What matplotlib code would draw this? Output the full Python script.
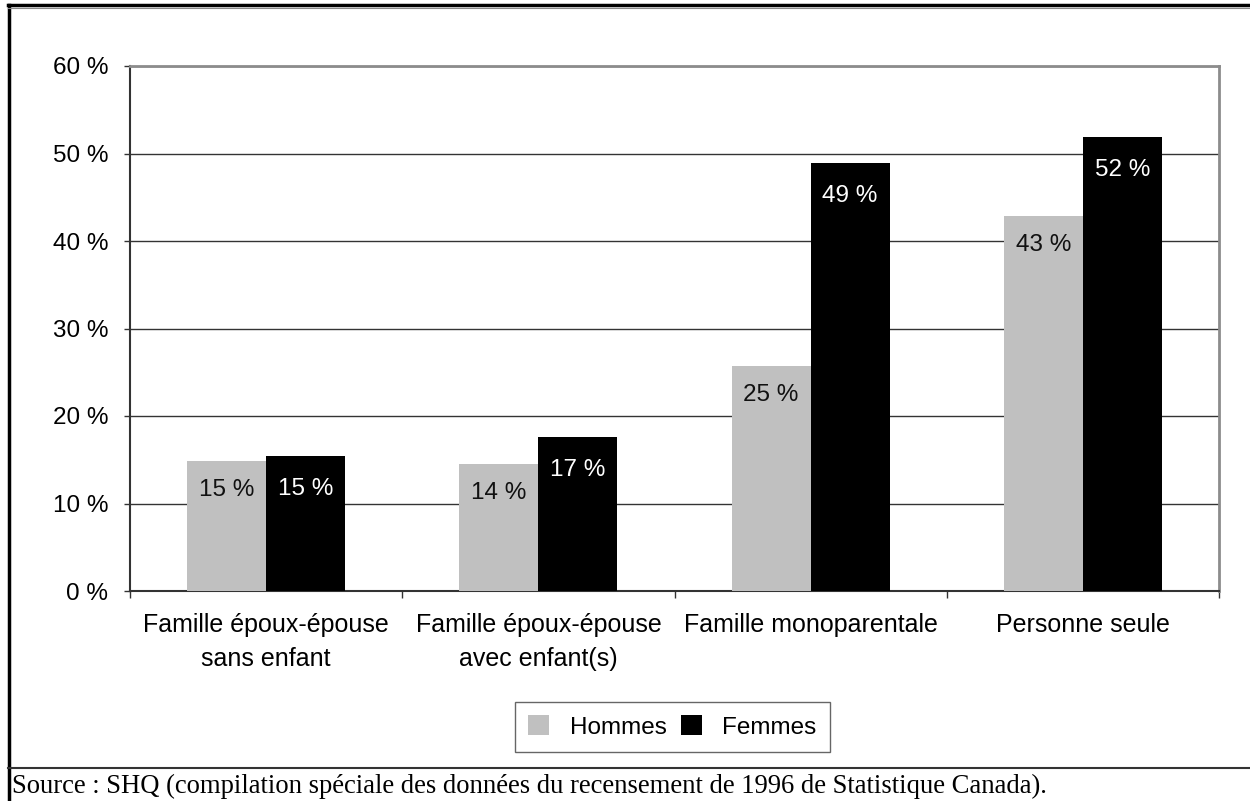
import numpy as np
import matplotlib
matplotlib.use('Agg')
import matplotlib.pyplot as plt
from matplotlib.lines import Line2D

#%% Data

categories = ['Famille époux-épouse\nsans enfant',
              'Famille époux-épouse\navec enfant(s)',
              'Famille monoparentale',
              'Personne seule']
hommes = [14.9, 14.5, 25.7, 42.9]
femmes = [15.4, 17.6, 48.9, 51.9]
hommes_labels = ['15 %', '14 %', '25 %', '43 %']
femmes_labels = ['15 %', '17 %', '49 %', '52 %']
series_names = ['Hommes', 'Femmes']
yticks = [0, 10, 20, 30, 40, 50, 60]
source = "Source : SHQ (compilation spéciale des données du recensement de 1996 de Statistique Canada)."

#%% Plot

plt.rcParams['font.family'] = ['Liberation Sans', 'DejaVu Sans']
fs = 17.5

fig = plt.figure(figsize=(12.5, 8.01), dpi=100)
ax = fig.add_axes([130/1250, 1 - 591/801, (1219 - 130)/1250, (591 - 66)/801])

x = np.arange(len(categories))
w = 0.29
b1 = ax.bar(x - w/2, hommes, w, color='#c0c0c0', zorder=3, label=series_names[0])
b2 = ax.bar(x + w/2, femmes, w, color='black', zorder=3, label=series_names[1])

for xi, v, lab in zip(x - w/2, hommes, hommes_labels):
    ax.annotate(lab, (xi, v), xytext=(0, -29), textcoords='offset pixels',
                ha='center', va='center', fontsize=fs, color='#111111', zorder=4)
for xi, v, lab in zip(x + w/2, femmes, femmes_labels):
    ax.annotate(lab, (xi, v), xytext=(0, -33), textcoords='offset pixels',
                ha='center', va='center', fontsize=fs, color='white', zorder=4)

ax.set_xlim(-0.5, len(categories) - 0.5)
ax.set_ylim(0, 60)
ax.set_yticks(yticks)
ax.set_yticklabels([f'{t} %' for t in yticks], fontsize=fs)
ax.yaxis.grid(True, color='#333333', linewidth=1, zorder=0)
ax.tick_params(axis='y', length=4.5, width=1, color='#333333', pad=11)

# category boundaries as major ticks, labels on minor ticks
ax.set_xticks(np.arange(-0.5, len(categories), 1))
ax.set_xticklabels([])
ax.set_xticks(x, minor=True)
ax.set_xticklabels(categories, minor=True, fontsize=18, linespacing=1.5)
ax.tick_params(axis='x', which='major', length=5, width=1, color='#333333')
ax.tick_params(axis='x', which='minor', length=0, pad=16)

for s in ['top', 'right']:
    ax.spines[s].set_color('#8c8c8c')
    ax.spines[s].set_linewidth(2)
for s in ['left', 'bottom']:
    ax.spines[s].set_color('#333333')
    ax.spines[s].set_linewidth(1.5)

leg = fig.legend(handles=[b1, b2], loc='center', bbox_to_anchor=(672.5/1250, 1 - 727/801),
                 ncol=2, fontsize=fs, frameon=True, fancybox=False,
                 handlelength=0.85, handleheight=0.85, handletextpad=0.85,
                 columnspacing=0.6, borderpad=0.55)
leg.get_frame().set_edgecolor('#404040')
leg.get_frame().set_linewidth(1)

# outer frame
fig.add_artist(Line2D([8.5/1250, 8.5/1250], [0, 1 - 5/801], color='black', lw=2.5))
fig.add_artist(Line2D([8/1250, 1], [1 - 5/801, 1 - 5/801], color='black', lw=2.5))
fig.add_artist(Line2D([8/1250, 1], [1 - 8/801, 1 - 8/801], color='#888888', lw=0.8))
fig.add_artist(Line2D([8/1250, 1], [1 - 768/801, 1 - 768/801], color='#333333', lw=1.5))

fig.text(12/1250, 1 - 793/801, source, family='Liberation Serif', fontsize=19.2,
         ha='left', va='baseline')

fig.savefig('out.png', dpi=100)
